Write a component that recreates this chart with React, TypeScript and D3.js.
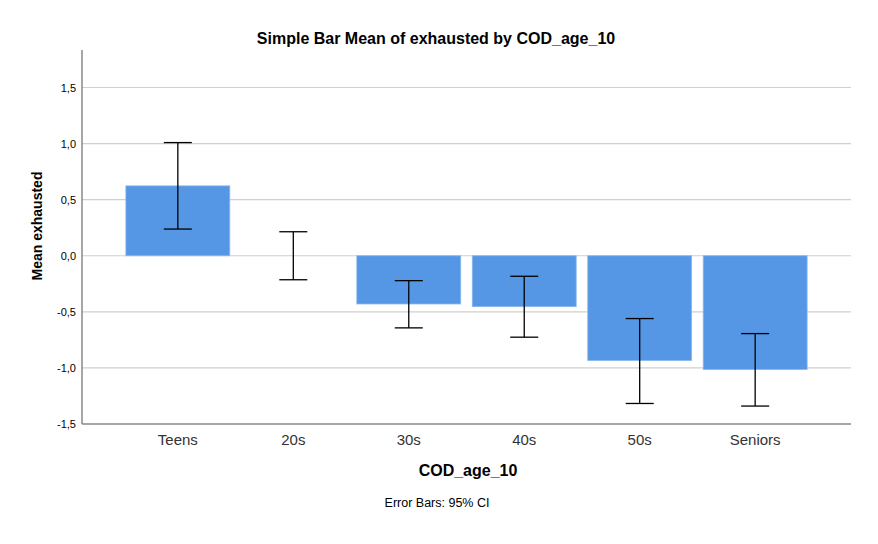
import React, { useEffect, useRef } from 'react'
import * as d3 from 'd3'

// values
const categories = ['Teens', '20s', '30s', '40s', '50s', 'Seniors']
const means = [0.623, 0.0, -0.43, -0.454, -0.934, -1.014]
const ciLow = [0.238, -0.214, -0.643, -0.726, -1.317, -1.34]
const ciHigh = [1.009, 0.214, -0.222, -0.183, -0.56, -0.694]
const yTicks = [-1.5, -1.0, -0.5, 0.0, 0.5, 1.0, 1.5]

const width = 878
const height = 544
const fontFamily = '"Liberation Sans", Arial, sans-serif'

const App: React.FC = () => {
  const svgRef = useRef<SVGSVGElement>(null)

  useEffect(() => {
    if (!svgRef.current) return
    const svg = d3.select(svgRef.current)
    svg.selectAll('*').remove()

    const margin = { top: 50, right: 27, bottom: 120, left: 82 }
    const plotBottom = height - margin.bottom // 424

    const xScale = d3
      .scaleBand()
      .domain(categories)
      .range([margin.left, width - margin.right])
      .paddingInner(0.1)
      .paddingOuter(0.38)

    const yScale = d3
      .scaleLinear()
      .domain([-1.5, 1.5])
      .range([plotBottom, 87.5])

    // gridlines
    svg
      .append('g')
      .selectAll('line')
      .data(yTicks.filter((t) => t !== -1.5))
      .enter()
      .append('line')
      .attr('x1', margin.left)
      .attr('x2', width - margin.right)
      .attr('y1', (d) => yScale(d))
      .attr('y2', (d) => yScale(d))
      .attr('stroke', '#cfcfcf')
      .attr('stroke-width', 1.2)

    const data = categories.map((c, i) => ({
      name: c,
      mean: means[i],
      lo: ciLow[i],
      hi: ciHigh[i]
    }))

    // bars
    svg
      .append('g')
      .selectAll('rect')
      .data(data)
      .enter()
      .append('rect')
      .attr('x', (d) => xScale(d.name) ?? 0)
      .attr('width', xScale.bandwidth())
      .attr('y', (d) => yScale(Math.max(0, d.mean)))
      .attr('height', (d) => Math.abs(yScale(d.mean) - yScale(0)))
      .attr('fill', '#5596e5')
      .attr('stroke', '#8ab8ef')
      .attr('stroke-width', 0.8)

    // error bars
    const capHalf = 14
    const eb = svg.append('g').attr('stroke', '#000').attr('stroke-width', 1.3)
    data.forEach((d) => {
      const cx = (xScale(d.name) ?? 0) + xScale.bandwidth() / 2
      eb.append('line')
        .attr('x1', cx)
        .attr('x2', cx)
        .attr('y1', yScale(d.hi))
        .attr('y2', yScale(d.lo))
      ;[d.hi, d.lo].forEach((v) => {
        eb.append('line')
          .attr('x1', cx - capHalf)
          .attr('x2', cx + capHalf)
          .attr('y1', yScale(v))
          .attr('y2', yScale(v))
      })
    })

    // axes lines
    svg
      .append('line')
      .attr('x1', margin.left)
      .attr('x2', margin.left)
      .attr('y1', margin.top)
      .attr('y2', plotBottom)
      .attr('stroke', '#888')
      .attr('stroke-width', 1.5)
    svg
      .append('line')
      .attr('x1', margin.left)
      .attr('x2', width - margin.right)
      .attr('y1', plotBottom)
      .attr('y2', plotBottom)
      .attr('stroke', '#888')
      .attr('stroke-width', 1.5)

    // y tick labels
    svg
      .append('g')
      .selectAll('text')
      .data(yTicks)
      .enter()
      .append('text')
      .attr('x', margin.left - 6)
      .attr('y', (d) => yScale(d) + 4)
      .attr('text-anchor', 'end')
      .style('font-family', fontFamily)
      .style('font-size', '11px')
      .attr('fill', '#000')
      .text((d) => d3.format('.1f')(d).replace('.', ',').replace('−', '-'))

    // x tick labels
    svg
      .append('g')
      .selectAll('text')
      .data(categories)
      .enter()
      .append('text')
      .attr('x', (d) => (xScale(d) ?? 0) + xScale.bandwidth() / 2)
      .attr('y', 445)
      .attr('text-anchor', 'middle')
      .style('font-family', fontFamily)
      .style('font-size', '15px')
      .attr('fill', '#333')
      .text((d) => d)

    // titles
    svg
      .append('text')
      .attr('x', 436)
      .attr('y', 44)
      .attr('text-anchor', 'middle')
      .style('font-family', fontFamily)
      .style('font-size', '16px')
      .style('font-weight', 'bold')
      .text('Simple Bar Mean of exhausted by COD_age_10')

    svg
      .append('text')
      .attr('x', 468)
      .attr('y', 476)
      .attr('text-anchor', 'middle')
      .style('font-family', fontFamily)
      .style('font-size', '16px')
      .style('font-weight', 'bold')
      .text('COD_age_10')

    svg
      .append('text')
      .attr('transform', 'rotate(-90)')
      .attr('x', -226)
      .attr('y', 42)
      .attr('text-anchor', 'middle')
      .style('font-family', fontFamily)
      .style('font-size', '14px')
      .style('font-weight', 'bold')
      .text('Mean exhausted')

    svg
      .append('text')
      .attr('x', 437)
      .attr('y', 507)
      .attr('text-anchor', 'middle')
      .style('font-family', fontFamily)
      .style('font-size', '12.5px')
      .text('Error Bars: 95% CI')
  }, [])

  return (
    <svg
      ref={svgRef}
      width={width}
      height={height}
      style={{ position: 'absolute', left: 0, top: 0, background: '#fff' }}
    ></svg>
  )
}

export default App
